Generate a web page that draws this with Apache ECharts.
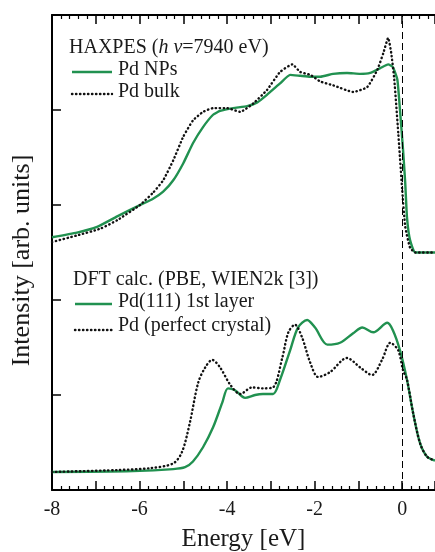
<!DOCTYPE html>
<html>
<head>
<meta charset="utf-8">
<script src="https://cdn.jsdelivr.net/npm/echarts@6/dist/echarts.min.js"></script>
<style>
  html, body { margin: 0; padding: 0; background: #fff; }
  #chart { width: 435px; height: 552px; }
</style>
</head>
<body>
<div id="chart"></div>
<script>
// HAXPES valence-band spectra (hv = 7940 eV), offset upward
const npE   = [-8.0,-7.43,-6.97,-6.51,-5.99,-5.71,-5.46,-5.23,-5.0,-4.78,-4.55,-4.32,-4.16,-3.86,-3.54,-3.31,-3.09,-2.79,-2.56,-2.33,-2.10,-1.87,-1.58,-1.26,-0.96,-0.73,-0.50,-0.32,-0.21,-0.11,-0.05,0.02,0.07,0.11,0.18,0.30,0.75];
const npI   = [2.66,2.71,2.77,2.88,3.0,3.06,3.14,3.26,3.44,3.65,3.82,3.95,3.99,4.02,4.04,4.08,4.16,4.28,4.37,4.36,4.35,4.35,4.38,4.39,4.38,4.39,4.44,4.48,4.45,4.32,4.0,3.58,3.23,2.87,2.63,2.5,2.5];
const bulkE = [-8.0,-7.43,-6.9,-6.51,-5.99,-5.69,-5.46,-5.23,-5.0,-4.78,-4.55,-4.32,-4.0,-3.70,-3.40,-3.09,-2.79,-2.51,-2.33,-2.10,-1.87,-1.58,-1.12,-0.80,-0.57,-0.43,-0.32,-0.25,-0.18,-0.09,0.0,0.07,0.18,0.30,0.75];
const bulkI = [2.61,2.68,2.75,2.84,3.0,3.13,3.26,3.47,3.72,3.89,3.98,4.02,4.02,3.98,4.07,4.21,4.4,4.48,4.4,4.37,4.3,4.26,4.19,4.24,4.42,4.6,4.76,4.6,4.32,3.76,3.16,2.77,2.55,2.5,2.5];

// DFT (PBE, WIEN2k) broadened densities of states
const slabE = [-8.0,-6.15,-5.23,-4.96,-4.78,-4.55,-4.32,-4.11,-3.98,-3.82,-3.59,-3.36,-3.18,-2.95,-2.79,-2.56,-2.38,-2.17,-1.99,-1.71,-1.42,-1.12,-0.91,-0.66,-0.34,-0.21,-0.05,0.11,0.25,0.41,0.57,0.75];
const slabI = [0.19,0.2,0.22,0.24,0.3,0.45,0.66,0.92,1.07,1.05,0.97,1.0,1.01,1.01,1.16,1.47,1.71,1.79,1.71,1.53,1.55,1.65,1.71,1.66,1.76,1.68,1.47,1.16,0.81,0.49,0.35,0.31];
const crysE = [-8.0,-6.51,-5.76,-5.23,-5.03,-4.85,-4.66,-4.50,-4.34,-4.16,-3.93,-3.70,-3.43,-3.18,-2.95,-2.74,-2.60,-2.45,-2.29,-2.10,-1.92,-1.65,-1.26,-0.96,-0.69,-0.46,-0.27,-0.09,0.02,0.11,0.25,0.41,0.57,0.75];
const crysI = [0.19,0.21,0.23,0.28,0.40,0.71,1.13,1.29,1.37,1.29,1.11,1.01,1.08,1.07,1.08,1.39,1.66,1.74,1.61,1.34,1.19,1.24,1.39,1.29,1.21,1.37,1.55,1.47,1.26,1.16,0.81,0.49,0.35,0.31];

const GREEN = '#219150';
const INK = '#1a1a1a';
const SERIF = '"Liberation Serif", "Times New Roman", serif';
const DOTS = [0.4, 3.6];

const pairs = (xs, ys) => xs.map((x, i) => [x, ys[i]]);

const tickAxis = (pos) => ({
  type: 'value', position: pos, min: -8, max: 0.75, interval: 1,
  axisLine: { show: true, onZero: false, lineStyle: { color: '#000', width: 2 } },
  axisTick: { show: true, inside: true, length: 9, lineStyle: { color: '#000', width: 1.5 } },
  minorTick: { show: true, splitNumber: 5, length: 4, lineStyle: { color: '#000', width: 1.2 } },
  splitLine: { show: false }, minorSplitLine: { show: false }
});

const xBottom = Object.assign(tickAxis('bottom'), {
  axisLabel: {
    show: true, margin: 10, color: INK, fontFamily: SERIF, fontSize: 20,
    showMaxLabel: false,
    formatter: v => (Math.abs(v % 2) < 1e-9 ? String(v) : '')
  },
  name: 'Energy [eV]', nameLocation: 'middle', nameGap: 37,
  nameTextStyle: { color: INK, fontFamily: SERIF, fontSize: 25 }
});
const xTop = Object.assign(tickAxis('top'), { axisLabel: { show: false } });

const line = (name, data, color, dotted, smooth) => ({
  name, type: 'line', data, symbol: 'none', smooth, silent: true,
  lineStyle: dotted
    ? { color: '#111', width: 2.4, type: DOTS, cap: 'round' }
    : { color, width: 2.4 },
  z: dotted ? 3 : 2
});

const chart = echarts.init(document.getElementById('chart'), null, { renderer: 'canvas' });
chart.setOption({
  animation: false,
  backgroundColor: '#fff',
  grid: { left: 52, right: 0, top: 15, bottom: 62, outerBoundsMode: 'none', containLabel: false },
  xAxis: [xBottom, xTop],
  yAxis: {
    type: 'value', min: 0, max: 5, interval: 1,
    axisLine: { show: true, onZero: false, lineStyle: { color: '#000', width: 2 } },
    axisTick: { show: true, inside: true, length: 9, lineStyle: { color: '#000', width: 1.5 } },
    axisLabel: { show: false }, splitLine: { show: false },
    name: 'Intensity [arb. units]', nameLocation: 'middle', nameGap: 17,
    nameTextStyle: { color: INK, fontFamily: SERIF, fontSize: 26, padding: [0, 16, 0, 0] }
  },
  series: [
    Object.assign(line('Pd NPs', pairs(npE, npI), GREEN, false, 0.15), {
      markLine: {
        silent: true, symbol: 'none', label: { show: false },
        lineStyle: { color: '#000', width: 1, type: [7, 4] },
        data: [{ xAxis: 0 }]
      }
    }),
    line('Pd bulk', pairs(bulkE, bulkI), '#111', true, 0.15),
    line('Pd(111) 1st layer', pairs(slabE, slabI), GREEN, false, 0.3),
    line('Pd (perfect crystal)', pairs(crysE, crysI), '#111', true, 0.3)
  ],
  graphic: [
    // HAXPES legend block
    { type: 'text', left: 69, top: 36, scaleY: 1.1, style: {
        text: '{n|HAXPES (}{i|h ν}{n|=7940 eV)}', fill: INK,
        rich: {
          n: { fontFamily: SERIF, fontSize: 20, fill: INK },
          i: { fontFamily: SERIF, fontSize: 20, fontStyle: 'italic', fill: INK }
        } } },
    { type: 'line', shape: { x1: 72, y1: 72, x2: 112, y2: 72 }, style: { stroke: GREEN, lineWidth: 2.4 } },
    { type: 'text', left: 118, top: 60, style: { text: 'Pd NPs', fontFamily: SERIF, fontSize: 20, fill: INK } },
    { type: 'line', shape: { x1: 72, y1: 94, x2: 112, y2: 94 }, style: { stroke: '#111', lineWidth: 2.4, lineDash: DOTS, lineCap: 'round' } },
    { type: 'text', left: 118, top: 82, style: { text: 'Pd bulk', fontFamily: SERIF, fontSize: 20, fill: INK } },
    // DFT legend block
    { type: 'text', left: 73, top: 270, style: { text: 'DFT calc. (PBE, WIEN2k [3])', fontFamily: SERIF, fontSize: 20, fill: INK } },
    { type: 'line', shape: { x1: 75, y1: 304, x2: 112, y2: 304 }, style: { stroke: GREEN, lineWidth: 2.4 } },
    { type: 'text', left: 118, top: 292, style: { text: 'Pd(111) 1st layer', fontFamily: SERIF, fontSize: 20, fill: INK } },
    { type: 'line', shape: { x1: 75, y1: 330, x2: 112, y2: 330 }, style: { stroke: '#111', lineWidth: 2.4, lineDash: DOTS, lineCap: 'round' } },
    { type: 'text', left: 118, top: 316, style: { text: 'Pd (perfect crystal)', fontFamily: SERIF, fontSize: 20, fill: INK } }
  ]
});
</script>
</body>
</html>
